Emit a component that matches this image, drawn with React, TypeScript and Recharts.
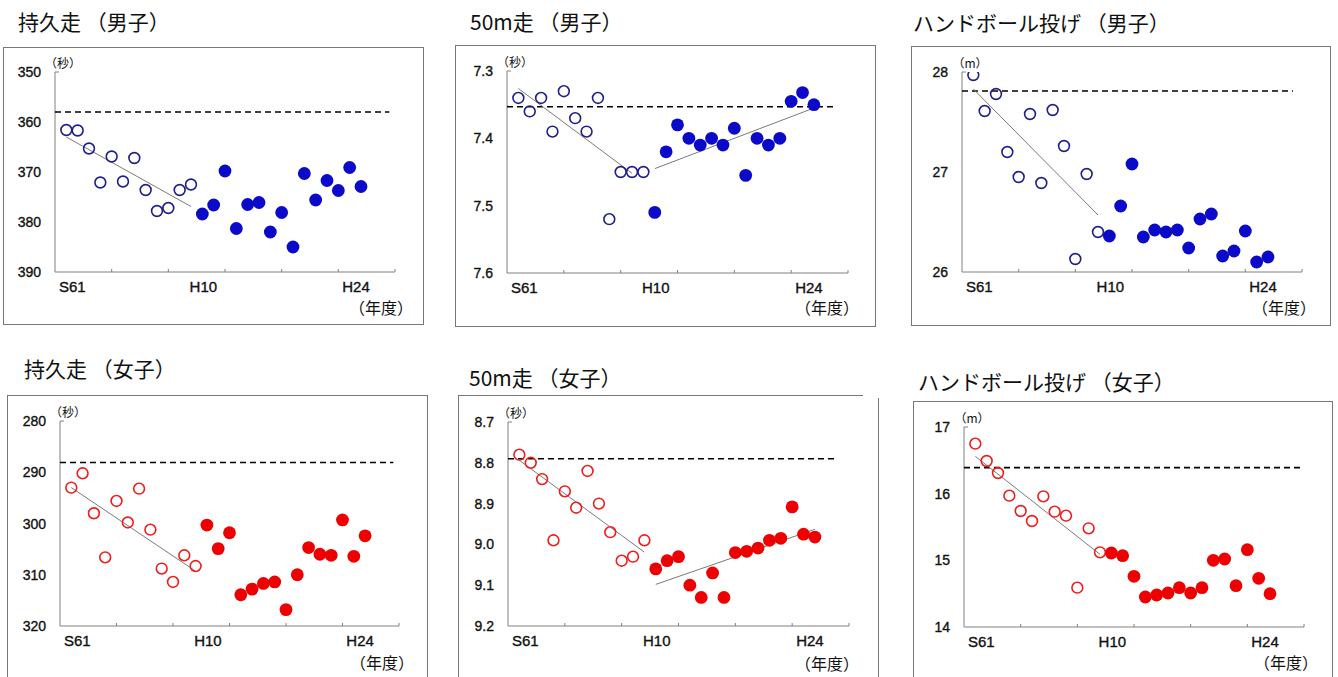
import React from 'react';
import { ScatterChart, Scatter, XAxis, YAxis } from 'recharts';

// ---------- categories ----------
const yearsOpen = [1986, 1987, 1988, 1989, 1990, 1991, 1992, 1993, 1994, 1995, 1996, 1997];
const yearsFilled = [1998, 1999, 2000, 2001, 2002, 2003, 2004, 2005, 2006, 2007, 2008, 2009, 2010, 2011, 2012];
const xLabelYears = [1986, 1998, 2012];
const xLabelText = ['S61', 'H10', 'H24'];
const xMinorTicks = [1990, 1995, 2000, 2005, 2010, 2015];
const xDomain: [number, number] = [1985, 2015];

// ---------- 持久走（男子） ----------
const enduranceBoysOpen = [361.6, 361.7, 365.3, 372.1, 366.9, 371.9, 367.2, 373.6, 377.8, 377.2, 373.6, 372.5];
const enduranceBoysFilled = [378.4, 376.6, 369.8, 381.3, 376.5, 376.1, 382.0, 378.1, 385.0, 370.3, 375.6, 371.7, 373.7, 369.1, 372.9];
const enduranceBoysTrend = [{ x: 1986, y: 363.0 }, { x: 1997, y: 376.9 }];
const enduranceBoysRef = 358;
const enduranceBoysTicks = [350, 360, 370, 380, 390];

// ---------- 50m走（男子） ----------
const sprintBoysOpen = [7.34, 7.36, 7.34, 7.39, 7.33, 7.37, 7.39, 7.34, 7.52, 7.45, 7.45, 7.45];
const sprintBoysFilled = [7.51, 7.42, 7.38, 7.40, 7.41, 7.40, 7.41, 7.385, 7.455, 7.40, 7.41, 7.40, 7.345, 7.332, 7.35];
const sprintBoysTrend1 = [{ x: 1986, y: 7.326 }, { x: 1996, y: 7.452 }];
const sprintBoysTrend2 = [{ x: 1998, y: 7.445 }, { x: 2012, y: 7.355 }];
const sprintBoysRef = 7.353;
const sprintBoysTicks = [7.3, 7.4, 7.5, 7.6];

// ---------- ハンドボール投げ（男子） ----------
const throwBoysOpen = [27.97, 27.61, 27.78, 27.2, 26.95, 27.58, 26.89, 27.62, 27.26, 26.13, 26.98, 26.4];
const throwBoysFilled = [26.36, 26.66, 27.08, 26.35, 26.42, 26.4, 26.42, 26.24, 26.53, 26.58, 26.16, 26.21, 26.41, 26.1, 26.15];
const throwBoysTrend = [{ x: 1986, y: 27.83 }, { x: 1997, y: 26.57 }];
const throwBoysRef = 27.81;
const throwBoysTicks = [26, 27, 28];

// ---------- 持久走（女子） ----------
const enduranceGirlsOpen = [293.0, 290.2, 298.0, 306.6, 295.6, 299.8, 293.2, 301.2, 308.8, 311.4, 306.2, 308.3];
const enduranceGirlsFilled = [300.3, 304.9, 301.8, 313.9, 312.8, 311.7, 311.4, 316.8, 310.0, 304.7, 306.0, 306.2, 299.3, 306.4, 302.4];
const enduranceGirlsTrend = [{ x: 1986, y: 293.0 }, { x: 1997, y: 309.3 }];
const enduranceGirlsRef = 288.1;
const enduranceGirlsTicks = [280, 290, 300, 310, 320];

// ---------- 50m走（女子） ----------
const sprintGirlsOpen = [8.78, 8.8, 8.84, 8.99, 8.87, 8.91, 8.82, 8.9, 8.97, 9.04, 9.03, 8.99];
const sprintGirlsFilled = [9.06, 9.04, 9.03, 9.1, 9.13, 9.07, 9.13, 9.02, 9.017, 9.009, 8.99, 8.985, 8.908, 8.975, 8.982];
const sprintGirlsTrend1 = [{ x: 1986, y: 8.794 }, { x: 1997, y: 9.019 }];
const sprintGirlsTrend2 = [{ x: 1998, y: 9.098 }, { x: 2012, y: 8.963 }];
const sprintGirlsRef = 8.79;
const sprintGirlsTicks = [8.7, 8.8, 8.9, 9.0, 9.1, 9.2];

// ---------- ハンドボール投げ（女子） ----------
const throwGirlsOpen = [16.75, 16.49, 16.31, 15.97, 15.74, 15.59, 15.96, 15.73, 15.67, 14.59, 15.48, 15.12];
const throwGirlsFilled = [15.11, 15.07, 14.76, 14.45, 14.48, 14.51, 14.59, 14.51, 14.59, 15.0, 15.02, 14.62, 15.16, 14.73, 14.5];
const throwGirlsTrend = [{ x: 1986, y: 16.56 }, { x: 1997, y: 15.09 }];
const throwGirlsRef = 16.39;
const throwGirlsTicks = [14, 15, 16, 17];

const BLUE_OPEN = '#1e1e8c';
const BLUE_FILL = '#0a0ac8';
const RED_OPEN = '#ee1c1c';
const RED_FILL = '#ee0000';
const AXIS = '#808080';
const TICK_FONT = '"Liberation Sans", Arial, sans-serif';
const CJK_FONT = '"Noto Sans CJK JP", "Noto Sans", sans-serif';

type Rect = { l: number; t: number; r: number; b: number };
type Pt = { x: number; y: number };

type PanelCfg = {
  title: string;
  titlePos: [number, number];
  box: Rect;
  rightBorder: boolean;
  plot: Rect;
  yTicks: number[];
  reversed: boolean;
  decimals: number;
  unit: string;
  open: number[];
  filled: number[];
  openColor: string;
  fillColor: string;
  trends: Pt[][];
  refValue: number;
  refEnd: number;
  nendo: [number, number];
  labelDx: number[];
};

const ML = 60, MT = 30, MR = 20, MB = 50;

function Panel(p: PanelCfg) {
  const pw = p.plot.r - p.plot.l;
  const ph = p.plot.b - p.plot.t;
  const cw = pw + ML + MR;
  const ch = ph + MT + MB;
  const yDomain: [number, number] = [p.yTicks[0], p.yTicks[p.yTicks.length - 1]];
  const topTick = p.reversed ? yDomain[0] : yDomain[1];
  const openData = yearsOpen.map((x, i) => ({ x, y: p.open[i] }));
  const filledData = yearsFilled.map((x, i) => ({ x, y: p.filled[i] }));
  const refData = [{ x: xDomain[0], y: p.refValue }, { x: p.refEnd, y: p.refValue }];
  const xTicks = [...xLabelYears, ...xMinorTicks].sort((a, b) => a - b);

  const renderYTick = (t: any) => {
    const v = Number(t.payload.value);
    return (
      <g>
        <text
          x={t.x - 14}
          y={t.y + 5}
          textAnchor="end"
          fontSize={14}
          fontFamily={TICK_FONT}
          fill="#111"
          stroke="#111"
          strokeWidth={0.35}
        >
          {v.toFixed(p.decimals)}
        </text>
        {v === topTick && <line x1={t.x} x2={t.x + 4} y1={t.y} y2={t.y} stroke={AXIS} />}
      </g>
    );
  };
  const renderXTick = (t: any) => {
    const v = Number(t.payload.value);
    const li = xLabelYears.indexOf(v);
    return (
      <g>
        {li >= 0 && (
          <text
            x={t.x + p.labelDx[li]}
            y={t.y + 20}
            textAnchor="middle"
            fontSize={15}
            fontFamily={TICK_FONT}
            fill="#111"
            stroke="#111"
            strokeWidth={0.35}
          >
            {xLabelText[li]}
          </text>
        )}
        {xMinorTicks.includes(v) && <line x1={t.x} x2={t.x} y1={t.y} y2={t.y - 3} stroke={AXIS} />}
      </g>
    );
  };
  const hidden = () => <g />;

  return (
    <>
      <div
        style={{
          position: 'absolute',
          left: p.box.l,
          top: p.box.t,
          width: p.box.r - p.box.l,
          height: p.box.b - p.box.t,
          borderTop: '1px solid #777',
          borderLeft: '1px solid #777',
          borderBottom: '1px solid #777',
          borderRight: p.rightBorder ? '1px solid #777' : 'none',
          boxSizing: 'border-box',
        }}
      />
      <div
        style={{
          position: 'absolute',
          left: p.titlePos[0],
          top: p.titlePos[1] - 13,
          fontFamily: CJK_FONT,
          fontSize: 21,
          lineHeight: '26px',
          color: '#111',
          whiteSpace: 'pre',
        }}
      >
        {p.title}
      </div>
      <div style={{ position: 'absolute', left: p.plot.l - ML, top: p.plot.t - MT }}>
        <ScatterChart width={cw} height={ch} margin={{ top: MT, right: MR, bottom: 0, left: 0 }}>
          <XAxis
            type="number"
            dataKey="x"
            domain={xDomain}
            ticks={xTicks}
            interval={0}
            height={MB}
            tickSize={0}
            tickMargin={0}
            tickLine={false}
            axisLine={{ stroke: AXIS }}
            tick={renderXTick}
            allowDataOverflow
          />
          <YAxis
            type="number"
            dataKey="y"
            domain={yDomain}
            ticks={p.yTicks}
            interval={0}
            reversed={p.reversed}
            width={ML}
            tickSize={0}
            tickMargin={0}
            tickLine={false}
            axisLine={{ stroke: AXIS }}
            tick={renderYTick}
            allowDataOverflow
          />
          <Scatter
            data={refData}
            isAnimationActive={false}
            shape={hidden}
            line={{ stroke: '#000', strokeWidth: 1.6, strokeDasharray: '6 4' }}
          />
          {p.trends.map((tr, i) => (
            <Scatter
              key={i}
              data={tr}
              isAnimationActive={false}
              shape={hidden}
              line={{ stroke: '#7a7a7a', strokeWidth: 1 }}
            />
          ))}
          <Scatter
            data={openData}
            isAnimationActive={false}
            shape={(s: any) => (
              <circle cx={s.cx} cy={s.cy} r={5.4} fill="none" stroke={p.openColor} strokeWidth={1.6} />
            )}
          />
          <Scatter
            data={filledData}
            isAnimationActive={false}
            shape={(s: any) => <circle cx={s.cx} cy={s.cy} r={6.4} fill={p.fillColor} />}
          />
        </ScatterChart>
      </div>
      <div
        style={{
          position: 'absolute',
          left: p.plot.l + 8 - 30,
          width: 60,
          textAlign: 'center',
          top: p.plot.t - 9 - 8,
          fontFamily: CJK_FONT,
          fontSize: 12,
          lineHeight: '16px',
          color: '#111',
        }}
      >
        {p.unit}
      </div>
      <div
        style={{
          position: 'absolute',
          left: p.nendo[0] + 6 - 80,
          width: 80,
          textAlign: 'right',
          top: p.nendo[1] - 10,
          fontFamily: CJK_FONT,
          fontSize: 16,
          lineHeight: '20px',
          color: '#111',
        }}
      >
        （年度）
      </div>
    </>
  );
}

const DX = [6, 1, -5];

const panels: PanelCfg[] = [
  {
    title: '持久走 （男子）', titlePos: [18, 21],
    box: { l: 3, t: 47, r: 424, b: 325 }, rightBorder: true,
    plot: { l: 55, t: 72, r: 395, b: 272 },
    yTicks: enduranceBoysTicks, reversed: true, decimals: 0, unit: '（秒）',
    open: enduranceBoysOpen, filled: enduranceBoysFilled, openColor: BLUE_OPEN, fillColor: BLUE_FILL,
    trends: [enduranceBoysTrend], refValue: enduranceBoysRef, refEnd: 2014.5,
    nendo: [407, 307], labelDx: DX,
  },
  {
    title: '50m走 （男子）', titlePos: [470, 21],
    box: { l: 455, t: 45, r: 876, b: 327 }, rightBorder: true,
    plot: { l: 507, t: 71, r: 848, b: 273 },
    yTicks: sprintBoysTicks, reversed: true, decimals: 1, unit: '（秒）',
    open: sprintBoysOpen, filled: sprintBoysFilled, openColor: BLUE_OPEN, fillColor: BLUE_FILL,
    trends: [sprintBoysTrend1, sprintBoysTrend2], refValue: sprintBoysRef, refEnd: 2013.9,
    nendo: [853, 307], labelDx: DX,
  },
  {
    title: 'ハンドボール投げ （男子）', titlePos: [913, 22],
    box: { l: 911, t: 46, r: 1331, b: 326 }, rightBorder: true,
    plot: { l: 962, t: 72, r: 1302, b: 272 },
    yTicks: throwBoysTicks, reversed: false, decimals: 0, unit: '（m）',
    open: throwBoysOpen, filled: throwBoysFilled, openColor: BLUE_OPEN, fillColor: BLUE_FILL,
    trends: [throwBoysTrend], refValue: throwBoysRef, refEnd: 2014.2,
    nendo: [1310, 307], labelDx: DX,
  },
  {
    title: '持久走 （女子）', titlePos: [24, 368],
    box: { l: 7, t: 395, r: 428, b: 700 }, rightBorder: true,
    plot: { l: 60, t: 421, r: 399, b: 626 },
    yTicks: enduranceGirlsTicks, reversed: true, decimals: 0, unit: '（秒）',
    open: enduranceGirlsOpen, filled: enduranceGirlsFilled, openColor: RED_OPEN, fillColor: RED_FILL,
    trends: [enduranceGirlsTrend], refValue: enduranceGirlsRef, refEnd: 2014.5,
    nendo: [408, 662], labelDx: DX,
  },
  {
    title: '50m走 （女子）', titlePos: [469, 377],
    box: { l: 458, t: 395, r: 863, b: 700 }, rightBorder: false,
    plot: { l: 508, t: 422, r: 849, b: 626 },
    yTicks: sprintGirlsTicks, reversed: true, decimals: 1, unit: '（秒）',
    open: sprintGirlsOpen, filled: sprintGirlsFilled, openColor: RED_OPEN, fillColor: RED_FILL,
    trends: [sprintGirlsTrend1, sprintGirlsTrend2], refValue: sprintGirlsRef, refEnd: 2013.9,
    nendo: [853, 663], labelDx: DX,
  },
  {
    title: 'ハンドボール投げ （女子）', titlePos: [918, 381],
    box: { l: 913, t: 401, r: 1333, b: 700 }, rightBorder: true,
    plot: { l: 964, t: 427, r: 1304, b: 627 },
    yTicks: throwGirlsTicks, reversed: false, decimals: 0, unit: '（m）',
    open: throwGirlsOpen, filled: throwGirlsFilled, openColor: RED_OPEN, fillColor: RED_FILL,
    trends: [throwGirlsTrend], refValue: throwGirlsRef, refEnd: 2015.3,
    nendo: [1312, 662], labelDx: DX,
  },
];

export default function App() {
  return (
    <div
      style={{
        position: 'absolute',
        left: 0,
        top: 0,
        width: 1338,
        height: 677,
        overflow: 'hidden',
        background: '#fff',
      }}
    >
      {panels.map((p, i) => (
        <Panel key={i} {...p} />
      ))}
      <div style={{ position: 'absolute', left: 878, top: 398, width: 1, height: 300, background: '#777' }} />
    </div>
  );
}
